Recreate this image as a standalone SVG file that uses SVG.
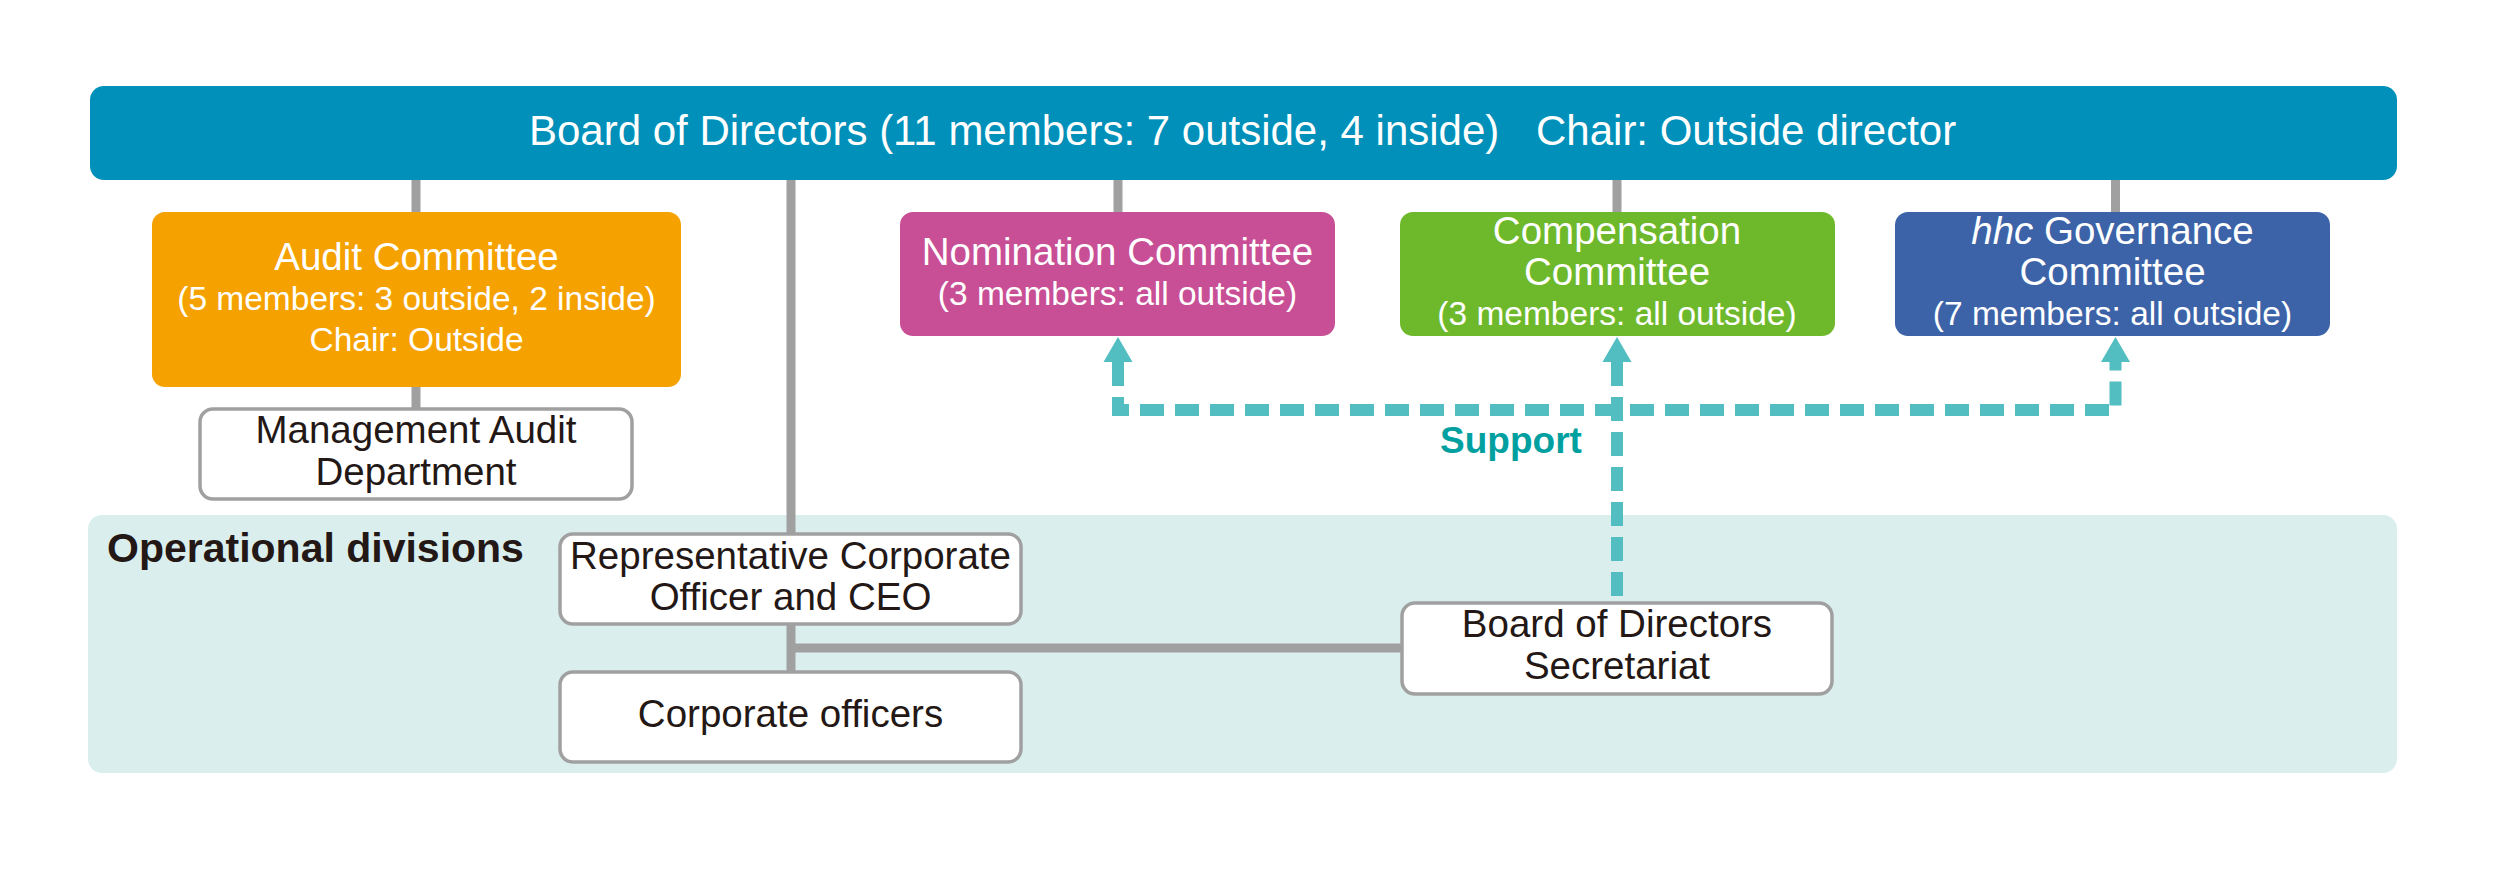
<svg xmlns="http://www.w3.org/2000/svg" width="2493" height="890" viewBox="0 0 2493 890">
<style>
text{font-family:"Liberation Sans",Arial,Helvetica,sans-serif;}
.w{fill:#ffffff;font-size:38.5px;}
.ws{fill:#ffffff;font-size:33.5px;}
.k{fill:#231815;font-size:38.5px;}
.box{fill:#ffffff;stroke:#a0a0a0;stroke-width:3.5;}
.g{stroke:#a0a0a0;stroke-width:9;fill:none;}
.d{stroke:#52bec1;stroke-width:12;fill:none;stroke-dasharray:24 11;}
</style>
<defs>
<path id="ah" d="M0 0 L14.5 25 L-14.5 25 Z" fill="#52bec1"/>
</defs>
<rect width="2493" height="890" fill="#ffffff"/>
<g id="operational-divisions">
<rect x="88" y="515" width="2309" height="258" rx="14" fill="#daeeee"/>
<text x="107" y="562" style="font-size:41px;font-weight:bold;fill:#231815">Operational divisions</text>
</g>
<g id="connectors">
<path class="g" d="M416 180V212M416 387V408M791 180V533M791 624V671M791 648H1401M1118 180V212M1617 180V212M2115.5 180V212"/>
<path class="d" d="M1118 362V410H2115.5V362"/>
<path class="d" d="M1617 362V602"/>
<use href="#ah" x="1118" y="337"/>
<use href="#ah" x="1617" y="337"/>
<use href="#ah" x="2115.5" y="337"/>
<text x="1511" y="453" text-anchor="middle" style="font-size:37px;font-weight:bold;fill:#00a0a0">Support</text>
</g>
<g id="board">
<rect x="90" y="86" width="2307" height="94" rx="14" fill="#0090b9"/>
<text class="w" style="font-size:42px" y="145"><tspan x="529">Board of Directors (11 members: 7 outside, 4 inside)</tspan><tspan x="1536">Chair: Outside director</tspan></text>
</g>
<g id="audit-committee">
<rect x="152" y="212" width="529" height="175" rx="13" fill="#f5a200"/>
<text class="w" x="416.5" y="270" text-anchor="middle">Audit Committee</text>
<text class="ws" x="416.5" y="310" text-anchor="middle">(5 members: 3 outside, 2 inside)</text>
<text class="ws" x="416.5" y="351" text-anchor="middle">Chair: Outside</text>
</g>
<g id="management-audit">
<rect class="box" x="200" y="409" width="432" height="90" rx="13"/>
<text class="k" x="416" y="443" text-anchor="middle">Management Audit</text>
<text class="k" x="416" y="485" text-anchor="middle">Department</text>
</g>
<g id="nomination-committee">
<rect x="900" y="212" width="435" height="124" rx="13" fill="#c84f95"/>
<text class="w" x="1117.5" y="265" text-anchor="middle">Nomination Committee</text>
<text class="ws" x="1117.5" y="305" text-anchor="middle">(3 members: all outside)</text>
</g>
<g id="compensation-committee">
<rect x="1400" y="212" width="435" height="124" rx="13" fill="#6eb92b"/>
<text class="w" x="1617" y="244" text-anchor="middle">Compensation</text>
<text class="w" x="1617" y="285" text-anchor="middle">Committee</text>
<text class="ws" x="1617" y="325" text-anchor="middle">(3 members: all outside)</text>
</g>
<g id="hhc-governance-committee">
<rect x="1895" y="212" width="435" height="124" rx="13" fill="#3c63a8"/>
<text class="w" x="2112.5" y="244" text-anchor="middle"><tspan font-style="italic">hhc</tspan> Governance</text>
<text class="w" x="2112.5" y="285" text-anchor="middle">Committee</text>
<text class="ws" x="2112.5" y="325" text-anchor="middle">(7 members: all outside)</text>
</g>
<g id="ceo">
<rect class="box" x="560" y="534" width="461" height="90" rx="13"/>
<text class="k" x="790.5" y="569" text-anchor="middle">Representative Corporate</text>
<text class="k" x="790.5" y="610" text-anchor="middle">Officer and CEO</text>
</g>
<g id="corporate-officers">
<rect class="box" x="560" y="672" width="461" height="90" rx="13"/>
<text class="k" x="790.5" y="727" text-anchor="middle">Corporate officers</text>
</g>
<g id="secretariat">
<rect class="box" x="1402" y="603" width="430" height="91" rx="13"/>
<text class="k" x="1617" y="637" text-anchor="middle">Board of Directors</text>
<text class="k" x="1617" y="679" text-anchor="middle">Secretariat</text>
</g>
</svg>
